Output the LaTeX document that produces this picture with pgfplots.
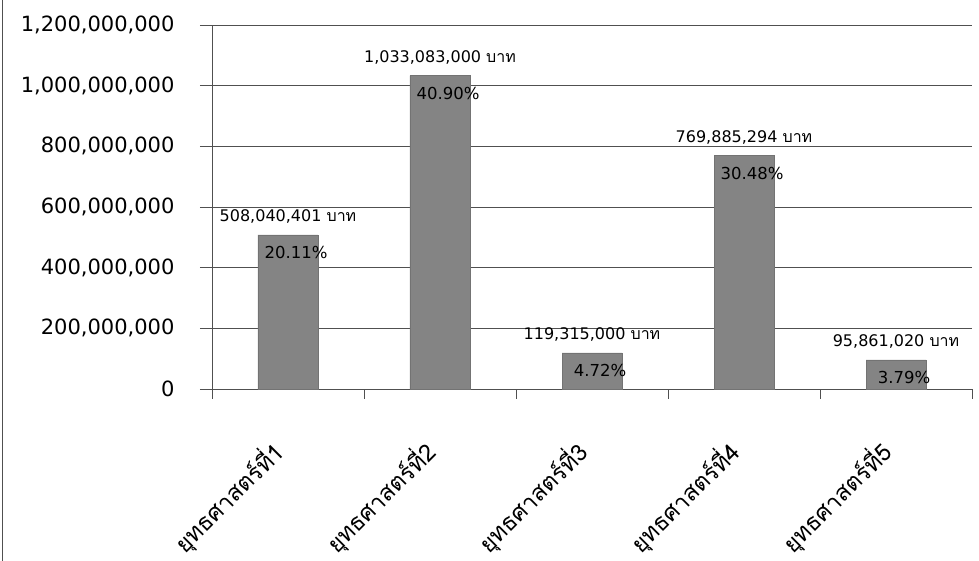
\documentclass[border=0pt]{standalone}
\usepackage{fontspec}
\setmainfont{DejaVu Sans}
\newfontfamily\thaifont[Script=Thai]{Loma}
\usepackage{pgfplots}
\usepackage{pgfplotstable}
\pgfplotsset{compat=1.18}

\pgfplotstableread{
x y lbl pct
0 508040401 508,040,401 20.11
1 1033083000 1,033,083,000 40.90
2 119315000 119,315,000 4.72
3 769885294 769,885,294 30.48
4 95861020 95,861,020 3.79
}\budget

\definecolor{barfill}{RGB}{132,132,132}
\definecolor{gridc}{RGB}{80,80,80}

\begin{document}
\begin{tikzpicture}
\path[use as bounding box] (-212pt,-172pt) rectangle (767pt,389pt);
\draw[gridc, line width=1pt] (-209pt,-172pt) -- (-209pt,389pt);
\begin{axis}[
  at={(0,0)}, anchor=south west,
  scale only axis, width=760pt, height=364pt,
  xmin=-0.5, xmax=4.5, ymin=0, ymax=1200000000,
  ybar, bar width=60pt, bar shift=0pt,
  axis x line*=bottom, axis y line*=left,
  axis line style={gridc, line width=0.8pt},
  ytick={0,200000000,...,1200000000},
  scaled y ticks=false,
  /pgf/number format/fixed, /pgf/number format/precision=0,
  /pgf/number format/1000 sep={,}, /pgf/number format/assume math mode=true,
  yticklabel style={font=\fontsize{21}{25}\selectfont, xshift=-22pt},
  ymajorgrids, grid style={gridc, line width=0.9pt},
  major y tick style={gridc, line width=0.9pt},
  major tick length=12pt,
  tick align=outside,
  xtick={0,1,2,3,4},
  xticklabels={ยุทธศาสตร์ที่1,ยุทธศาสตร์ที่2,ยุทธศาสตร์ที่3,ยุทธศาสตร์ที่4,ยุทธศาสตร์ที่5},
  major x tick style={draw=none},
  xticklabel style={font=\thaifont\fontsize{23.5}{28}\selectfont, xshift=-6pt, yshift=-44pt, rotate=45, anchor=east},
  minor xtick={-0.5,0.5,...,4.5},
  minor x tick style={gridc, line width=0.9pt},
  minor tick length=10pt,
  clip=false,
]
\addplot[fill=barfill, draw=gridc!80, line width=0.6pt,
  point meta=explicit symbolic,
  nodes near coords={\pgfplotspointmeta\ {\thaifont บาท}},
  every node near coord/.append style={font=\fontsize{16}{19}\selectfont, anchor=center, yshift=18pt, text=black}]
  table[x=x, y=y, meta=lbl] {\budget};
\addplot[draw=none, fill=none,
  point meta=explicit symbolic,
  nodes near coords={\pgfplotspointmeta\%},
  every node near coord/.append style={font=\fontsize{16.5}{19}\selectfont, anchor=center, yshift=-18pt, xshift=8pt, text=black}]
  table[x=x, y=y, meta=pct] {\budget};
\end{axis}
\end{tikzpicture}
\end{document}
